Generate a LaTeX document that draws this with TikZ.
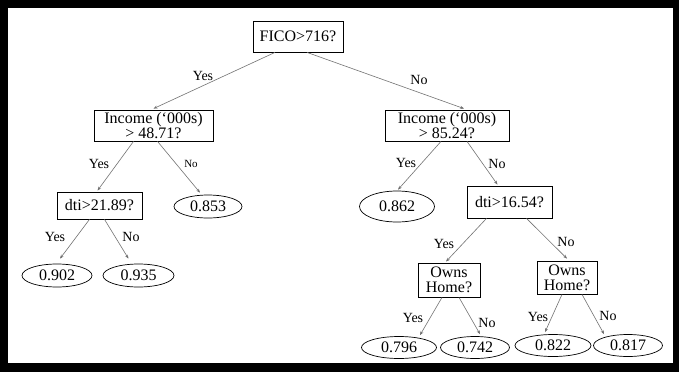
\documentclass[tikz,border=0pt]{standalone}
\usepackage{fontspec}
\setmainfont{Liberation Serif}
\usetikzlibrary{shapes.geometric,arrows.meta,calc}
\begin{document}
\begin{tikzpicture}[x=1pt,y=-1pt,
  box/.style={draw,line width=0.8pt,rectangle,inner sep=0pt,align=center,font=\fontsize{16}{15}\selectfont},
  leaf/.style={draw,line width=0.7pt,ellipse,inner sep=0pt,font=\fontsize{16}{16}\selectfont},
  edge/.style={draw=black!55,line width=0.6pt,-{Stealth[length=4pt,width=3pt,fill=black]}},
  lab/.style={inner sep=0pt,font=\fontsize{14}{14}\selectfont}]
\useasboundingbox (0,0) rectangle (679,372);
\fill[black] (0,0) rectangle (679,372);
\fill[white] (8,8) rectangle (673,363);
% decision nodes
\node[box,minimum width=90pt,minimum height=31pt] (fico) at (298,36.5) {FICO>716?};
\node[box,minimum width=119pt,minimum height=31pt] (incL) at (153.5,125.5) {Income (‘000s)\\> 48.71?};
\node[box,minimum width=124pt,minimum height=31pt] (incR) at (447,125.5) {Income (‘000s)\\> 85.24?};
\node[box,minimum width=85pt,minimum height=27pt] (dtiL) at (99.5,205.5) {dti>21.89?};
\node[box,minimum width=85pt,minimum height=32pt] (dtiR) at (509.5,202) {dti>16.54?};
\node[box,minimum width=62pt,minimum height=34pt] (ownL) at (449,280) {Owns\\Home?};
\node[box,minimum width=60pt,minimum height=33pt] (ownR) at (567,277.5) {Owns\\Home?};
% leaves
\node[leaf,minimum width=68pt,minimum height=23pt] (l853) at (208,206.5) {0.853};
\node[leaf,minimum width=75pt,minimum height=31pt] (l862) at (397,206.5) {0.862};
\node[leaf,minimum width=70pt,minimum height=23pt] (l902) at (57,275.5) {0.902};
\node[leaf,minimum width=71pt,minimum height=23pt] (l935) at (138.5,275.5) {0.935};
\node[leaf,minimum width=75pt,minimum height=22pt] (l796) at (399,347.5) {0.796};
\node[leaf,minimum width=69pt,minimum height=22pt] (l742) at (475,347.5) {0.742};
\node[leaf,minimum width=76pt,minimum height=22pt] (l822) at (553,345.5) {0.822};
\node[leaf,minimum width=69pt,minimum height=22pt] (l817) at (628,345.5) {0.817};
% edges
\draw[edge] ($(fico.south)+(-23,0)$) -- ($(incL.north)+(0,-1)$);
\draw[edge] ($(fico.south)+(9,0)$) -- ($(incR.north)+(17,-1)$);
\draw[edge] ($(incL.south)+(-20,0)$) -- ($(dtiL.north)+(-2,-1)$);
\draw[edge] ($(incL.south)+(4,0)$) -- ($(l853.north)+(-8,-2)$);
\draw[edge] ($(incR.south)+(-6,0)$) -- ($(l862.north)+(1,-1)$);
\draw[edge] ($(incR.south)+(20,0)$) -- ($(dtiR.north)+(-12,-1)$);
\draw[edge] ($(dtiL.south)+(-10,0)$) -- ($(l902.north)+(3,-5)$);
\draw[edge] ($(dtiL.south)+(5,0)$) -- ($(l935.north)+(-10,-5)$);
\draw[edge] ($(dtiR.south)+(-23,0)$) -- ($(ownL.north)+(-3,-1)$);
\draw[edge] ($(dtiR.south)+(17,0)$) -- ($(ownR.north)+(0,-2)$);
\draw[edge] ($(ownL.south)+(-7,0)$) -- ($(l796.north)+(21,-1)$);
\draw[edge] ($(ownL.south)+(10,0)$) -- ($(l742.north)+(5,-2)$);
\draw[edge] ($(ownR.south)+(-5,0)$) -- ($(l822.north)+(-8,-2)$);
\draw[edge] ($(ownR.south)+(15,0)$) -- ($(l817.north)+(-24,0)$);
% labels
\node[lab] (y1) at (203,76) {Yes};
\node[lab] (n1) at (419,80) {No};
\node[lab] (y2) at (99,164) {Yes};
\node[lab,font=\fontsize{11}{11}\selectfont] (n2) at (191,164) {No};
\node[lab] (y3) at (406,163) {Yes};
\node[lab] (n3) at (497,164) {No};
\node[lab] (y4) at (55,237) {Yes};
\node[lab] (n4) at (131,237) {No};
\node[lab] (y5) at (444,244) {Yes};
\node[lab] (n5) at (566,242) {No};
\node[lab] (y6) at (413,318) {Yes};
\node[lab] (n6) at (487,323) {No};
\node[lab] (y7) at (538,317) {Yes};
\node[lab] (n7) at (608,316) {No};
\end{tikzpicture}
\end{document}
